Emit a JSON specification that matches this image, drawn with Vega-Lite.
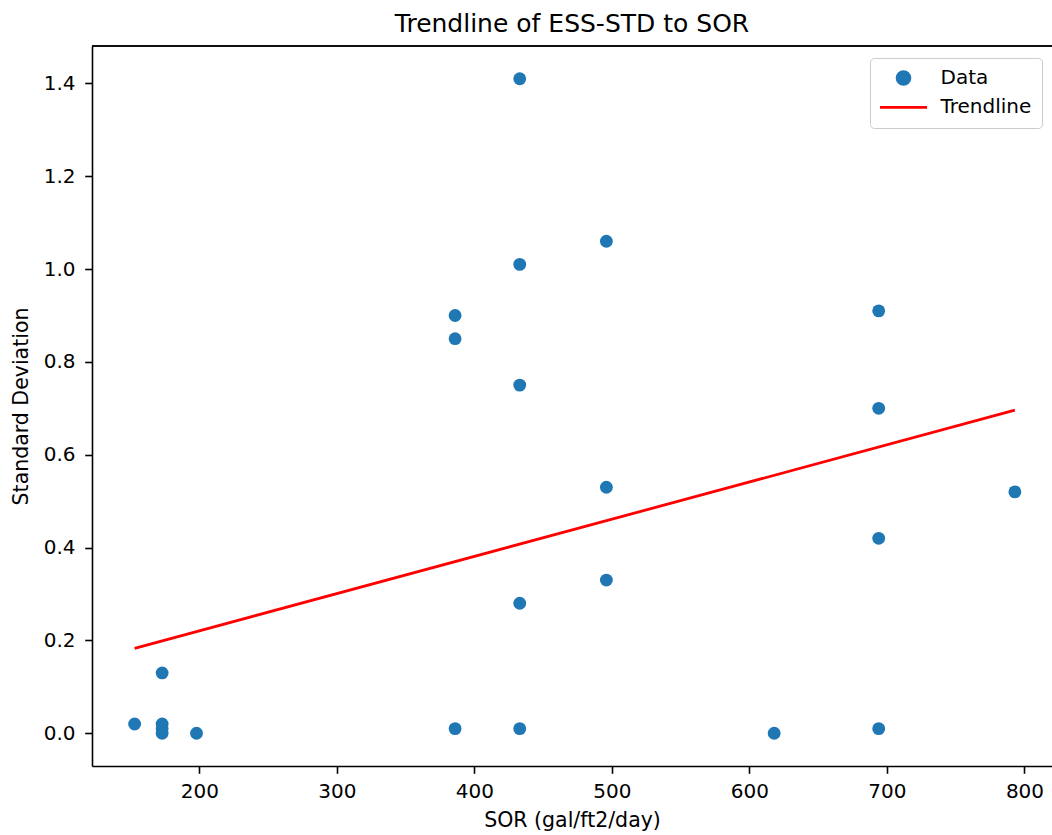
{
  "$schema": "https://vega.github.io/schema/vega-lite/v6.json",
  "autosize": {"type": "none"},
  "width": 960,
  "height": 720,
  "padding": {"left": 92, "top": 46, "right": 0, "bottom": 69},
  "background": "white",
  "config": {
    "view": {"stroke": null},
    "font": "DejaVu Sans",
    "axis": {
      "grid": false,
      "domainColor": "black",
      "domainWidth": 1.6,
      "tickColor": "black",
      "tickWidth": 1.6,
      "tickSize": 7.3,
      "labelFont": "DejaVu Sans",
      "labelFontSize": 20,
      "labelColor": "black",
      "titleFont": "DejaVu Sans",
      "titleFontSize": 20.5,
      "titleFontWeight": "normal",
      "titleColor": "black"
    },
    "legend": {
      "title": null,
      "orient": "none",
      "legendX": 778,
      "legendY": 12,
      "padding": 10,
      "strokeColor": "#cccccc",
      "fillColor": "rgba(255,255,255,0.8)",
      "cornerRadius": 4,
      "labelFont": "DejaVu Sans",
      "labelFontSize": 20,
      "labelColor": "black",
      "symbolSize": 165,
      "symbolStrokeWidth": 0,
      "symbolOffset": 13.5,
      "labelOffset": 27,
      "rowPadding": 6.4
    }
  },
  "title": {
    "text": "Trendline of ESS-STD to SOR",
    "font": "DejaVu Sans",
    "fontSize": 25,
    "fontWeight": "normal",
    "color": "black",
    "anchor": "middle",
    "baseline": "bottom",
    "offset": 8,
    "dy": 25
  },
  "datasets": {
    "points": [
      {"sor": 153, "std": 0.02},
      {"sor": 173, "std": 0.13},
      {"sor": 173, "std": 0.02},
      {"sor": 173, "std": 0.01},
      {"sor": 173, "std": 0.0},
      {"sor": 198, "std": 0.0},
      {"sor": 386, "std": 0.9},
      {"sor": 386, "std": 0.85},
      {"sor": 386, "std": 0.01},
      {"sor": 433, "std": 1.41},
      {"sor": 433, "std": 1.01},
      {"sor": 433, "std": 0.75},
      {"sor": 433, "std": 0.28},
      {"sor": 433, "std": 0.01},
      {"sor": 496, "std": 1.06},
      {"sor": 496, "std": 0.53},
      {"sor": 496, "std": 0.33},
      {"sor": 618, "std": 0.0},
      {"sor": 694, "std": 0.91},
      {"sor": 694, "std": 0.7},
      {"sor": 694, "std": 0.42},
      {"sor": 694, "std": 0.01},
      {"sor": 793, "std": 0.52}
    ],
    "trend": [
      {"sor": 153, "std": 0.183},
      {"sor": 793, "std": 0.696}
    ]
  },
  "layer": [
    {
      "data": {"name": "trend"},
      "mark": {"type": "rule", "color": "black", "strokeWidth": 1.6},
      "encoding": {
        "y": {"datum": 1.4805, "type": "quantitative"}
      }
    },
    {
      "data": {"name": "points"},
      "mark": {"type": "circle", "size": 165, "opacity": 1},
      "encoding": {
        "x": {
          "field": "sor",
          "type": "quantitative",
          "scale": {"domain": [122, 820], "nice": false, "zero": false},
          "axis": {
            "title": "SOR (gal/ft2/day)",
            "values": [200, 300, 400, 500, 600, 700, 800],
            "format": "d",
            "labelPadding": 8.5,
            "titlePadding": 8.5
          }
        },
        "y": {
          "field": "std",
          "type": "quantitative",
          "scale": {"domain": [-0.0705, 1.4805], "nice": false, "zero": false},
          "axis": {
            "title": "Standard Deviation",
            "values": [0, 0.2, 0.4, 0.6, 0.8, 1.0, 1.2, 1.4],
            "format": ".1f",
            "labelPadding": 9.7,
            "titlePadding": 12
          }
        },
        "color": {
          "datum": "Data",
          "type": "nominal",
          "scale": {"domain": ["Data", "Trendline"], "range": ["#1f77b4", "#ff0000"]},
          "legend": {
            "encode": {
              "symbols": {
                "update": {
                  "shape": {"signal": "datum.value === 'Data' ? 'circle' : 'M-3.66,0L3.66,0'"},
                  "fill": {"signal": "datum.value === 'Data' ? '#1f77b4' : 'transparent'"},
                  "stroke": {"signal": "datum.value === 'Data' ? 'transparent' : '#ff0000'"},
                  "strokeWidth": {"value": 2.8},
                  "opacity": {"value": 1}
                }
              }
            }
          }
        }
      }
    },
    {
      "data": {"name": "trend"},
      "mark": {"type": "line", "strokeWidth": 2.8},
      "encoding": {
        "x": {"field": "sor", "type": "quantitative"},
        "y": {"field": "std", "type": "quantitative"},
        "color": {
          "datum": "Trendline",
          "type": "nominal",
          "legend": {
            "encode": {
              "symbols": {
                "update": {
                  "shape": {"signal": "datum.value === 'Data' ? 'circle' : 'M-3.66,0L3.66,0'"},
                  "fill": {"signal": "datum.value === 'Data' ? '#1f77b4' : 'transparent'"},
                  "stroke": {"signal": "datum.value === 'Data' ? 'transparent' : '#ff0000'"},
                  "strokeWidth": {"value": 2.8},
                  "opacity": {"value": 1}
                }
              }
            }
          }
        }
      }
    }
  ]
}
